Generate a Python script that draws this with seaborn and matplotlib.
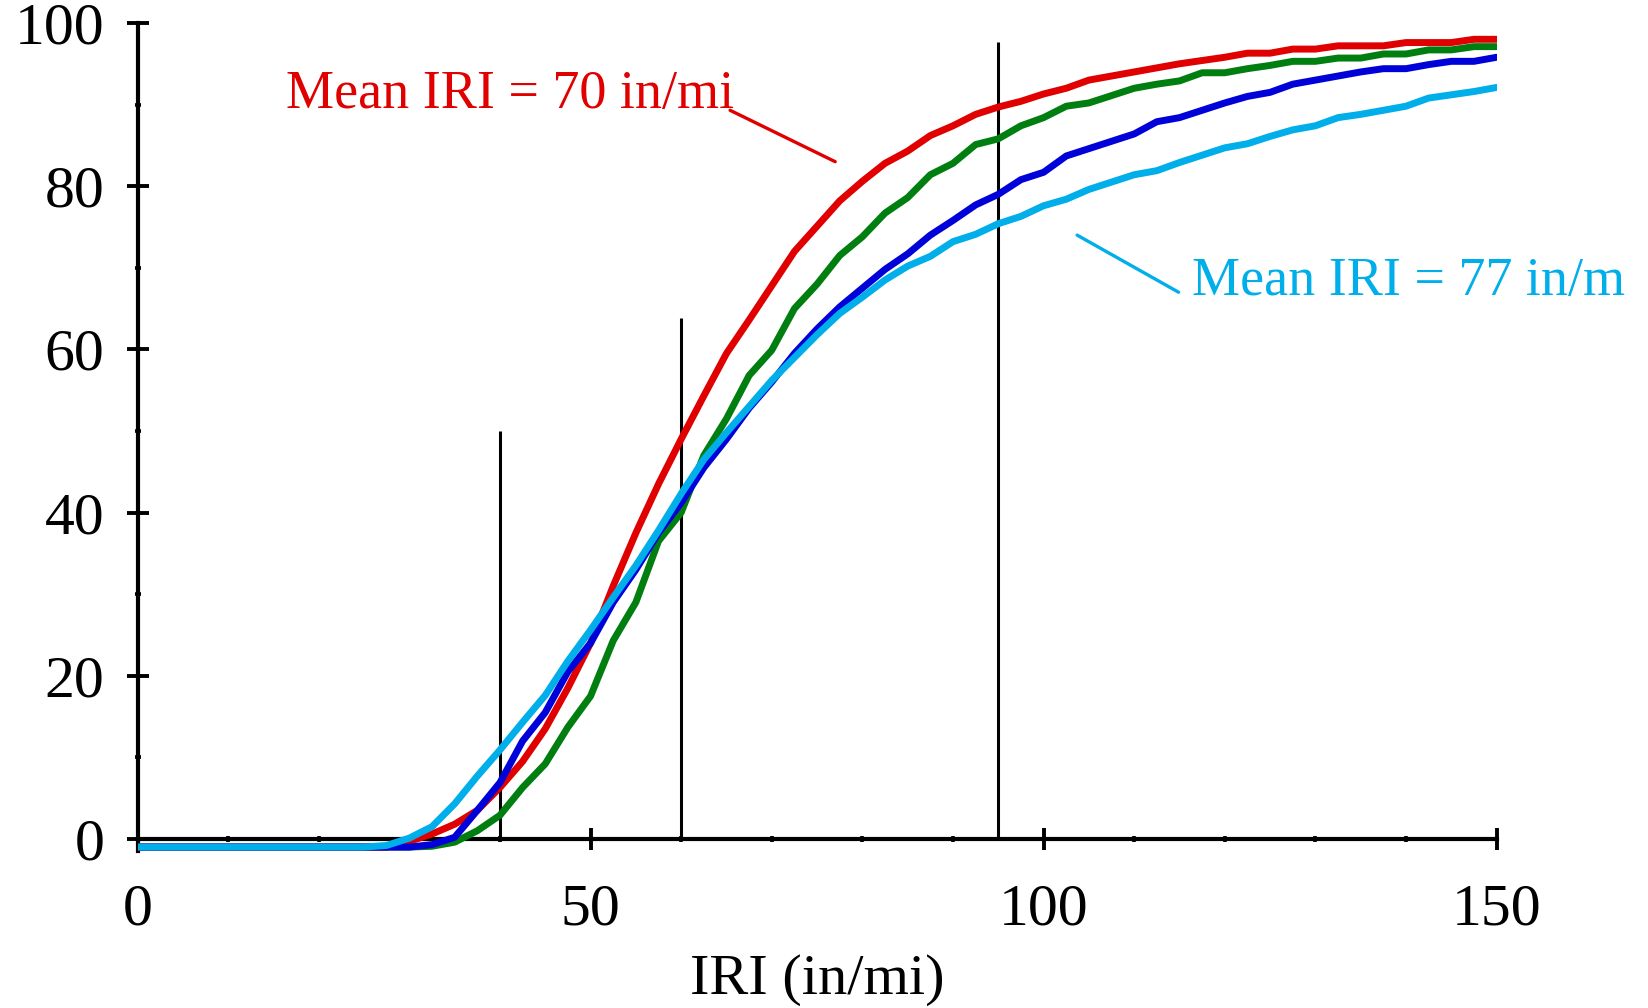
import matplotlib
matplotlib.use("Agg")
import matplotlib.pyplot as plt
from matplotlib.ticker import MultipleLocator
import numpy as np
import pandas as pd
import seaborn as sns

# IRI sampled every 2.5 in/mi
iri = np.arange(0, 152.5, 2.5)

flat = [-1.0] * 11  # 0 .. 25 in/mi, all curves sit just under the axis

red_pct = flat + [-1.0, -0.3, 0.6, 1.8, 3.5, 6.3, 9.5, 13.5, 18.5, 24.0,
                  31.0, 37.5, 43.5, 49.0, 54.3, 59.5, 63.6, 67.8, 72.0, 75.1,
                  78.2, 80.6, 82.8, 84.3, 86.2, 87.4, 88.8, 89.7, 90.4, 91.3,
                  92.0, 93.0, 93.5, 94.0, 94.5, 95.0, 95.4, 95.8, 96.3, 96.3,
                  96.8, 96.8, 97.2, 97.2, 97.2, 97.6, 97.6, 97.6, 98.0, 98.0]
blue_pct = flat + [-1.0, -1.0, -0.7, 0.2, 3.5, 6.9, 12.0, 15.5, 20.5, 24.0,
                   29.0, 33.0, 37.5, 41.2, 45.5, 49.0, 52.8, 56.0, 59.5, 62.5,
                   65.2, 67.5, 69.8, 71.7, 74.0, 75.8, 77.7, 79.0, 80.8, 81.7,
                   83.7, 84.6, 85.5, 86.4, 87.9, 88.4, 89.3, 90.2, 91.0, 91.5,
                   92.5, 93.0, 93.5, 94.0, 94.4, 94.4, 94.9, 95.3, 95.3, 95.8]
cyan_pct = flat + [-0.8, 0.1, 1.5, 4.3, 7.7, 10.9, 14.3, 17.6, 21.8, 25.6,
                   29.6, 33.5, 37.8, 42.3, 46.5, 49.8, 53.0, 56.2, 59.0, 61.8,
                   64.4, 66.4, 68.5, 70.2, 71.4, 73.2, 74.1, 75.4, 76.3, 77.6,
                   78.4, 79.6, 80.5, 81.4, 81.9, 82.9, 83.8, 84.7, 85.2, 86.1,
                   86.9, 87.4, 88.4, 88.8, 89.3, 89.8, 90.8, 91.2, 91.6, 92.1]
green_pct = flat + [-1.0, -1.0, -0.9, -0.4, 1.0, 2.9, 6.3, 9.2, 13.7, 17.5,
                    24.3, 29.0, 36.5, 40.0, 47.0, 51.5, 56.8, 59.9, 65.0, 68.0,
                    71.5, 73.8, 76.7, 78.6, 81.4, 82.8, 85.1, 85.8, 87.4, 88.4,
                    89.8, 90.2, 91.1, 92.0, 92.5, 92.9, 93.9, 93.9, 94.4, 94.8,
                    95.3, 95.3, 95.7, 95.7, 96.2, 96.2, 96.7, 96.7, 97.1, 97.1]

series = {"green": green_pct, "red": red_pct, "blue": blue_pct, "cyan": cyan_pct}
palette = {"green": "#007f10", "red": "#e00000", "blue": "#0000d8", "cyan": "#00aeea"}

# reference lines: (IRI, height)
ref_x = [40, 60, 95]
ref_top = [50, 63.8, 97.7]

df = pd.concat([pd.DataFrame({"iri": iri, "pct": v, "run": k}) for k, v in series.items()])

sns.set_theme(style="white")
plt.rcParams["font.family"] = ["Liberation Serif", "DejaVu Serif"]

fig = plt.figure(figsize=(16.49, 10.08), dpi=100)
ax = fig.add_axes([0.0834, 0.1556, 0.8242, 0.8216])

sns.lineplot(data=df, x="iri", y="pct", hue="run", hue_order=list(series),
             palette=palette, linewidth=5.0, legend=False, ax=ax, zorder=3)

ax.vlines(ref_x, 0, ref_top, color="black", linewidth=2.2, zorder=2)

ax.set_xlim(0, 150)
ax.set_ylim(-1.5, 100)
ax.spines["bottom"].set_position(("data", 0))
for s in ["top", "right"]:
    ax.spines[s].set_visible(False)
for s in ["left", "bottom"]:
    ax.spines[s].set_linewidth(3.0)
    ax.spines[s].set_color("black")

ax.xaxis.set_major_locator(MultipleLocator(50))
ax.xaxis.set_minor_locator(MultipleLocator(10))
ax.yaxis.set_major_locator(MultipleLocator(20))
ax.yaxis.set_minor_locator(MultipleLocator(10))
ax.tick_params(which="both", bottom=True, left=True, top=False, right=False)
ax.tick_params(which="major", direction="inout", length=16, width=2.8,
               labelsize=43, colors="black")
ax.tick_params(which="minor", direction="inout", length=5, width=2.6, colors="black")
ax.tick_params(axis="y", which="major", pad=16)
ax.tick_params(axis="x", which="major", pad=24)
ax.grid(False)

ax.set_xlabel("IRI (in/mi)", fontsize=42, labelpad=12, color="black")
ax.set_ylabel("")

ax.text(16.4, 89.6, "Mean IRI = 70 in/mi", color="#e00000", fontsize=39)
ax.plot([65.4, 77.0], [89.3, 83.0], color="#e00000", linewidth=2.4)
ax.text(116.4, 66.7, "Mean IRI = 77 in/m", color="#00aeea", fontsize=39, clip_on=False)
ax.plot([103.7, 114.9], [74.0, 67.0], color="#00aeea", linewidth=2.4)

fig.savefig("out.png", dpi=100)
